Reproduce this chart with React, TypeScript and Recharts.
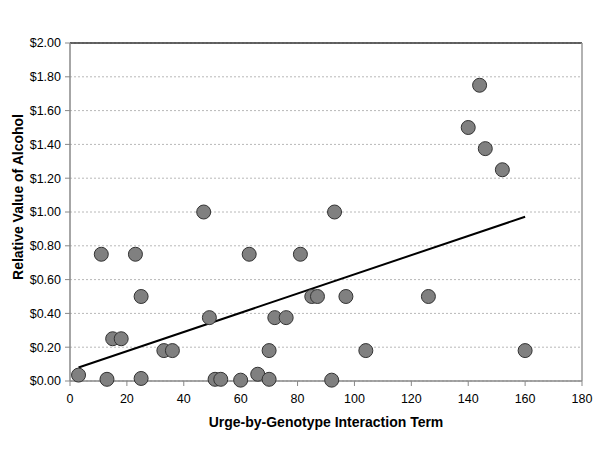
import React from "react";
import {
  ScatterChart,
  Scatter,
  XAxis,
  YAxis,
  CartesianGrid,
  ReferenceLine,
} from "recharts";

const interactionTerm = [
  3, 11, 13, 15, 18, 23, 25, 25, 33, 36, 47, 49, 51, 53, 60, 63, 66, 70, 70, 72,
  76, 81, 85, 87, 92, 93, 97, 104, 126, 140, 144, 146, 152, 160,
];
const alcoholValue = [
  0.035, 0.75, 0.01, 0.25, 0.25, 0.75, 0.5, 0.015, 0.18, 0.18, 1.0, 0.375, 0.01,
  0.01, 0.005, 0.75, 0.04, 0.18, 0.01, 0.375, 0.375, 0.75, 0.5, 0.5, 0.005, 1.0,
  0.5, 0.18, 0.5, 1.5, 1.75, 1.375, 1.25, 0.18,
];
const trendX = [3, 160];
const trendY = [0.08, 0.972];
const xTicks = [0, 20, 40, 60, 80, 100, 120, 140, 160, 180];
const yTicks = [0, 0.2, 0.4, 0.6, 0.8, 1.0, 1.2, 1.4, 1.6, 1.8, 2.0];

const points = interactionTerm.map((x, i) => ({ x, y: alcoholValue[i] }));
const trend = trendX.map((x, i) => ({ x, y: trendY[i] }));

const FONT = "'Liberation Sans', Arial, sans-serif";

const Dot = (props: any) => {
  const { cx, cy } = props;
  if (cx == null || cy == null) return <g />;
  return <circle cx={cx} cy={cy} r={7} fill="#808080" stroke="#333" strokeWidth={1} />;
};

const NoDot = () => <g />;

export default function App() {
  return (
    <div style={{ position: "absolute", left: 0, top: 0, background: "#fff" }}>
      <ScatterChart
        width={600}
        height={450}
        margin={{ top: 43, right: 18, bottom: 19, left: 10 }}
      >
        <CartesianGrid
          vertical={false}
          stroke="#b8b8b8"
          strokeDasharray="2 2"
        />
        <XAxis
          type="number"
          dataKey="x"
          domain={[0, 180]}
          ticks={xTicks}
          interval={0}
          height={50}
          tickSize={5}
          tickMargin={8}
          axisLine={{ stroke: "#888", strokeWidth: 1.5 }}
          tickLine={{ stroke: "#888" }}
          tick={{ fill: "#000", fontSize: 12.5, fontFamily: FONT }}
          label={{
            content: () => (
              <text
                x={326}
                y={427}
                textAnchor="middle"
                fontFamily={FONT}
                fontSize={14}
                fontWeight="bold"
                fill="#000"
              >
                Urge-by-Genotype Interaction Term
              </text>
            ),
          }}
        />
        <YAxis
          type="number"
          dataKey="y"
          domain={[0, 2]}
          ticks={yTicks}
          interval={0}
          width={60}
          tickSize={5}
          tickMargin={4}
          axisLine={{ stroke: "#888", strokeWidth: 1.5 }}
          tickLine={{ stroke: "#888" }}
          tick={{ fill: "#000", fontSize: 12.5, fontFamily: FONT }}
          tickFormatter={(v: number) => `$${v.toFixed(2)}`}
          label={{
            content: () => (
              <text
                x={23}
                y={197}
                transform="rotate(-90, 23, 197)"
                textAnchor="middle"
                fontFamily={FONT}
                fontSize={14}
                fontWeight="bold"
                fill="#000"
              >
                Relative Value of Alcohol
              </text>
            ),
          }}
        />
        <ReferenceLine y={2} stroke="#333" strokeWidth={1.5} ifOverflow="visible" />
        <ReferenceLine x={180} stroke="#999" strokeWidth={1.5} ifOverflow="visible" />
        <Scatter
          data={trend}
          line={{ stroke: "#000", strokeWidth: 2 }}
          shape={NoDot}
          isAnimationActive={false}
        />
        <Scatter data={points} shape={Dot} isAnimationActive={false} />
      </ScatterChart>
    </div>
  );
}
